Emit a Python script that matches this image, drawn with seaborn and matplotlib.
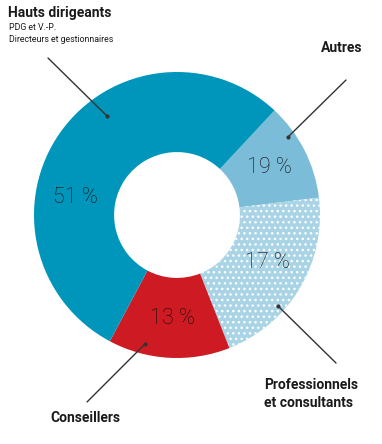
import matplotlib
matplotlib.use("Agg")
import matplotlib.pyplot as plt
import seaborn as sns

# Data (slice sizes as drawn in the picture, and their printed labels)
categories = ["Autres", "Professionnels et consultants", "Conseillers", "Hauts dirigeants"]
slice_sizes = [40.0, 75.5, 49.5, 195.0]          # angular share as drawn
pct_labels = ["19 %", "17 %", "13 %", "51 %"]
colors = ["#7bbdd8", "#a9d4e6", "#ce1a22", "#0096bb"]

sns.set_theme(style="white")
plt.rcParams["font.family"] = ["Roboto", "DejaVu Sans"]

W, H = 382, 444
CX, CY, R = 177, 215, 143
fig = plt.figure(figsize=(W / 100, H / 100), dpi=100)
ax = fig.add_axes([0, 0, 1, 1])

def p(x, y):
    return ((x - CX) / R, (CY - y) / R)

wedges, _ = ax.pie(slice_sizes, colors=colors, startangle=47, counterclock=False,
                   radius=1.0, wedgeprops=dict(width=0.56, linewidth=0))
wedges[1].set_edgecolor("white")
wedges[1].set_linewidth(0)
wedges[1].set_hatch("...")

ax.set_aspect("auto")
ax.set_xlim((0 - CX) / R, (W - CX) / R)
ax.set_ylim((CY - H) / R, CY / R)
ax.axis("off")

# percent labels
pct_pos = [(269, 167), (267, 262), (172, 318), (75, 197)]
for lab, (x, y) in zip(pct_labels, pct_pos):
    ax.text(*p(x, y), lab, ha="center", va="center", fontsize=15.5,
            fontweight="light", color="#0d0d0d")

# leader lines
leaders = [((346, 80), (288, 137)), ((336, 363), (278, 306)),
           ((87, 402), (145, 344)), ((48, 58), (107, 116))]
for (x0, y0), (x1, y1) in leaders:
    a, b = p(x0, y0), p(x1, y1)
    ax.plot([a[0], b[0]], [a[1], b[1]], color="#333333", lw=1.0)
    ax.plot([b[0]], [b[1]], "o", color="#333333", ms=2)

def t(x, y, s, **kw):
    fig.text(x / W, 1 - y / H, s, va="center", ha="left", color="#1a1a1a", **kw)

t(8, 13, "Hauts dirigeants", fontsize=10, fontweight="bold")
t(9, 27, "PDG et V.-P.", fontsize=6.3)
t(9, 40, "Directeurs et gestionnaires", fontsize=6.3)
t(321, 48, "Autres", fontsize=10, fontweight="bold")
t(264, 385, "Professionnels", fontsize=10, fontweight="bold")
t(264, 403, "et consultants", fontsize=10, fontweight="bold")
t(50, 418, "Conseillers", fontsize=10, fontweight="bold")

fig.savefig("out.png", dpi=100)
